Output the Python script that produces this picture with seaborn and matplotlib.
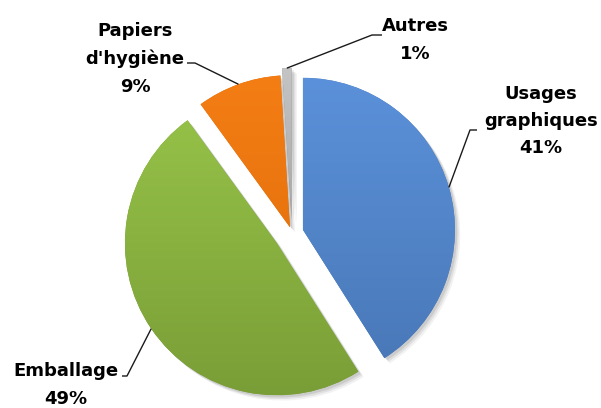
import matplotlib.pyplot as plt
import matplotlib.patches as mpatches
from matplotlib.colors import LinearSegmentedColormap
import numpy as np
import seaborn as sns

# --- Data ---
categories = ["Usages\ngraphiques", "Emballage", "Papiers\nd'hygiène", "Autres"]
shares = [41, 49, 9, 1]
pct_labels = ["41%", "49%", "9%", "1%"]

# --- Style ---
colors_top = ["#5B91DA", "#97C449", "#F47E14", "#C4C4C4"]
colors_bottom = ["#4877B6", "#7A9E37", "#DD6A0A", "#8A8A8A"]
explode = [0.075, 0.12, 0.04, 0.085]

# layout in pixels (pie centre at 292, 233; radius 152 px)
CX, CY, R_PX = 292, 233, 152
text_px = [(541, 121), (66, 385), (135, 59), (415, 40)]
elbow_px = [(470, 130), (127, 376), (195, 63), (372, 35)]
end_px = [(477, 130), (122, 376), (187, 63), (382, 35)]


def to_data(p):
    return ((p[0] - CX) / R_PX, (CY - p[1]) / R_PX)


sns.set_theme(style="white")
plt.rcParams["font.family"] = ["DejaVu Sans"]

fig = plt.figure(figsize=(6.01, 4.08), dpi=100)
ax = fig.add_axes([0, 0, 1, 1])

wedges, _ = ax.pie(
    shares, explode=explode, colors=colors_top, startangle=90,
    counterclock=False, radius=1, wedgeprops=dict(linewidth=0),
)

grad = np.linspace(0, 1, 256)[:, None]
for w, top, bot in zip(wedges, colors_top, colors_bottom):
    cx, cy = w.center
    r = w.r
    # soft shadow
    for k, a in [(0.035, 0.05), (0.025, 0.07), (0.015, 0.09)]:
        sh = mpatches.Wedge((cx + k, cy - k), r, w.theta1, w.theta2,
                            facecolor="black", alpha=a, linewidth=0, zorder=0.5)
        ax.add_patch(sh)
    w.set_zorder(1)
    w.set_facecolor(bot)
    cmap = LinearSegmentedColormap.from_list("g", [top, bot])
    im = ax.imshow(grad, extent=(cx - r, cx + r, cy - r, cy + r), origin="upper",
                   cmap=cmap, aspect="auto", zorder=1.1, interpolation="bicubic")
    im.set_clip_path(w)

# labels with leader lines
for w, cat, pct, tp, ep, nd in zip(wedges, categories, pct_labels, text_px, elbow_px, end_px):
    cx, cy = w.center
    mid = np.deg2rad((w.theta1 + w.theta2) / 2)
    anchor = (cx + w.r * np.cos(mid), cy + w.r * np.sin(mid))
    e = to_data(ep)
    n = to_data(nd)
    ax.plot([anchor[0], e[0], n[0]], [anchor[1], e[1], n[1]],
            color="#1a1a1a", linewidth=1, zorder=3, solid_capstyle="butt")
    t = to_data(tp)
    ax.text(t[0], t[1], f"{cat}\n{pct}", ha="center", va="center",
            fontsize=13, fontweight="bold", color="black", linespacing=1.65,
            multialignment="center", zorder=4)

ax.set_xlim(-CX / R_PX, (601 - CX) / R_PX)
ax.set_ylim(-(408 - CY) / R_PX, CY / R_PX)
ax.set_aspect("equal", adjustable="box")
ax.axis("off")

fig.savefig("out.png", dpi=100, facecolor="white")
